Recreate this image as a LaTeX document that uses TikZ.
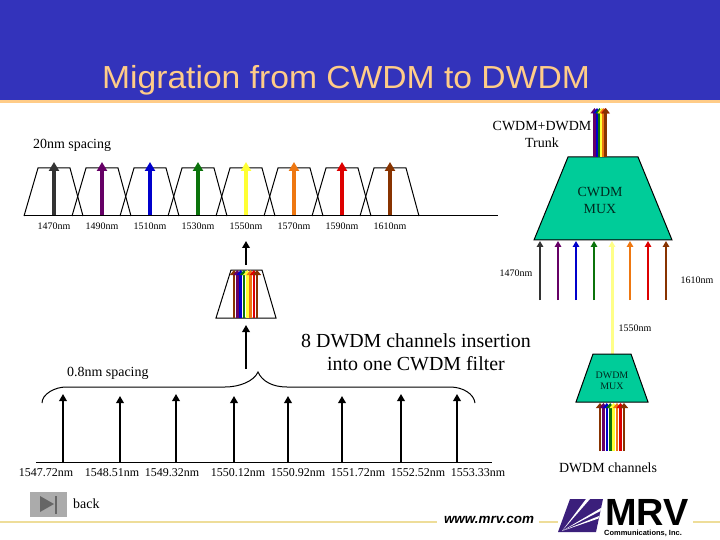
\documentclass[tikz,border=0pt]{standalone}
\usepackage{fontspec}
\setmainfont{Liberation Serif}
\newfontfamily\arialf{Liberation Sans}
\usetikzlibrary{arrows.meta}
\definecolor{cdark}{HTML}{333333}
\definecolor{cpurple}{HTML}{660066}
\definecolor{cblue}{HTML}{0000CC}
\definecolor{cgreen}{HTML}{0B730B}
\definecolor{cyellow}{HTML}{FFFF33}
\definecolor{corange}{HTML}{EE7711}
\definecolor{cred}{HTML}{DD0000}
\definecolor{cbrown}{HTML}{883300}
\definecolor{band}{HTML}{3333BB}
\definecolor{titlec}{HTML}{FFCC88}
\definecolor{rulec}{HTML}{EEDD99}
\definecolor{muxc}{HTML}{00CC99}
\definecolor{logop}{HTML}{3B1F7B}
\definecolor{paley}{HTML}{FFFF88}
\tikzset{
  bigarrow/.style={line width=4bp,-{Triangle[width=10bp,length=9bp]}},
  blackarrow/.style={line width=2bp,black,-{Triangle[width=7.5bp,length=7bp]}},
  thinarrow/.style={line width=2bp,-{Triangle[width=6.5bp,length=6bp]}},
  packarrow/.style={line width=2.6bp,-{Triangle[width=8bp,length=5bp]}},
  filterline/.style={draw=black,line width=1bp},
  lab/.style={inner sep=0pt,font=\fontsize{10}{10}\selectfont},
  wlab/.style={inner sep=0pt,font=\fontsize{12}{12}\selectfont},
  txt/.style={inner sep=0pt,align=center,font=\fontsize{14}{17}\selectfont},
  rulel/.style={draw=rulec,line width=2.2bp},
}
\begin{document}
\begin{tikzpicture}[x=1bp,y=-1bp]
\useasboundingbox (0,0) rectangle (720,540);
\fill[white] (0,0) rectangle (720,540);
% header
\fill[band] (0,0) rectangle (720,100);
\fill[titlec] (0,100) rectangle (720,103.5);
\node[inner sep=0pt,anchor=base,text=titlec,xscale=1.055,font=\arialf\fontsize{32}{32}\selectfont] (title) at (346,89) {Migration from CWDM to DWDM};
\node[txt,anchor=west] (sp20) at (33,145.5) {20nm spacing};
% CWDM filters
\coordinate (axL) at (24,216);
\coordinate (axR) at (498,216);
\foreach \x/\c/\t in {54/cdark/1470,102/cpurple/1490,150/cblue/1510,198/cgreen/1530,246/cyellow/1550,294/corange/1570,342/cred/1590,390/cbrown/1610}{
  \draw[filterline] (\x-30,216) -- (\x-16,168) -- (\x+16,168) -- (\x+29,216);
  \coordinate (b\x) at (\x,216);
  \coordinate (t\x) at (\x,162);
  \draw[bigarrow,color=\c] (b\x) -- (t\x);
  \node[lab] (l\x) at (\x,226) {\t nm};
}
\draw[filterline] (axL) -- (axR);
% small filter
\draw[filterline] (216,318) -- (231,270) -- (262,270) -- (276,318) -- cycle;
\foreach \x/\c in {234/cbrown,237.3/cpurple,240.6/cblue,243.9/cgreen,247.2/cyellow,250.5/corange,253.8/cred,257/cbrown}{
  \draw[packarrow,color=\c] (\x,318) -- (\x,270);
}
\coordinate (smalltop) at (246,265);
\coordinate (uptip) at (246,241);
\draw[blackarrow] (smalltop) -- (uptip);
\coordinate (bracetip) at (246,369);
\coordinate (smallbot) at (246,325);
\draw[blackarrow] (bracetip) -- (smallbot);
% brace
\draw[black,line width=1bp] (42,403) .. controls (42,394) and (55,387) .. (66,387) -- (225,387) .. controls (240,387) and (254,381) .. (258,372) .. controls (262,381) and (272,387) .. (287,387) -- (450,387) .. controls (463,387) and (474,394) .. (475,403);
% DWDM comb
\draw[filterline] (36,462) -- (492,462);
\foreach \x/\y in {63/394,120/396,176/394,234/396,288/396,342/396,401/394,457/394}{
  \coordinate (cb\x) at (\x,462);
  \coordinate (ct\x) at (\x,\y);
  \draw[blackarrow] (cb\x) -- (ct\x);
}
\foreach \x/\t in {46/1547.72,112/1548.51,172/1549.32,238/1550.12,298/1550.92,358/1551.72,418/1552.52,478/1553.33}{
  \node[wlab] (w\x) at (\x,473) {\t nm};
}
\node[txt,anchor=west] (sp08) at (67,373.5) {0.8nm spacing};
\node[inner sep=0pt,align=center,font=\fontsize{20}{23}\selectfont] (ins) at (416,352.5) {8 DWDM channels insertion\\into one CWDM filter};
% CWDM MUX
\fill[muxc,draw=black,line width=1bp] (568,157) -- (638,157) -- (672,240) -- (534,240) -- cycle;
\node[txt,text=black!80!muxc] (cwmux) at (600,200.5) {CWDM\\MUX};
\foreach \x/\c in {594.5/cpurple,597/cblue,599.5/cgreen,601.5/cyellow,603.2/corange,605.2/cred,605.8/cbrown}{
  \draw[line width=3bp,color=\c,-{Triangle[width=8bp,length=5.5bp]}] (\x,157) -- (\x,108);
}
\node[txt] (trunk) at (542,134.5) {CWDM+DWDM\\Trunk};
\foreach \x/\c in {540/cdark,558/cpurple,576/cblue,594/cgreen,630/corange,648/cred,666/cbrown}{
  \coordinate (mb\x) at (\x,300);
  \coordinate (mt\x) at (\x,241);
  \draw[thinarrow,color=\c] (mb\x) -- (mt\x);
}
\coordinate (dwtop) at (612,354);
\coordinate (cwy) at (612,241);
\draw[line width=3bp,color=paley,-{Triangle[width=6.5bp,length=6bp]}] (dwtop) -- (cwy);
\node[lab] (n1470) at (516,273) {1470nm};
\node[lab] (n1610) at (697,280) {1610nm};
\node[lab] (n1550) at (635,328) {1550nm};
% DWDM MUX
\fill[muxc,draw=black,line width=1bp] (593,354) -- (631,354) -- (648,402) -- (576,402) -- cycle;
\node[inner sep=0pt,align=center,text=black!80!muxc,font=\fontsize{10}{11.5}\selectfont] (dwmux) at (612,381) {DWDM\\MUX};
\foreach \x/\c in {600/cbrown,603.4/cpurple,606.8/cblue,610.2/cgreen,613.6/cyellow,617/corange,620.5/cred,624/cbrown}{
  \draw[packarrow,color=\c] (\x,451) -- (\x,403);
}
\node[txt,font=\fontsize{14}{14}\selectfont] (dwch) at (608,468) {DWDM channels};
% footer
\fill[fill=black!33] (30,492) rectangle (67,517);
\fill[black!60] (40,496) -- (40,512) -- (54,504) -- cycle;
\fill[black!60] (55,496) rectangle (57,514);
\node[txt,anchor=west] (back) at (73,504) {back};
\draw[rulel] (0,522) -- (437,522);
\draw[rulel] (539,522) -- (558,522);
\draw[rulel] (693,522) -- (720,522);
\node[inner sep=0pt,font=\arialf\bfseries\itshape\fontsize{13.5}{14}\selectfont] (www) at (489,520) {www.mrv.com};
% logo
\fill[logop] (570,499) -- (603,499) -- (596,532) -- (558,532) -- cycle;
\fill[white] (562,531) -- (586,499) -- (590,499) -- cycle;
\fill[white] (562,531) -- (601,508) -- (600.5,511) -- cycle;
\fill[white] (562,531) -- (599,516) -- (598.5,518.5) -- cycle;
\node[inner sep=0pt,anchor=base west,font=\arialf\bfseries\fontsize{38}{38}\selectfont] (mrv) at (605,525) {MRV};
\node[inner sep=0pt,anchor=base west,font=\arialf\bfseries\fontsize{7.5}{8}\selectfont] (comm) at (604,535) {Communications, Inc.};
\end{tikzpicture}
\end{document}
